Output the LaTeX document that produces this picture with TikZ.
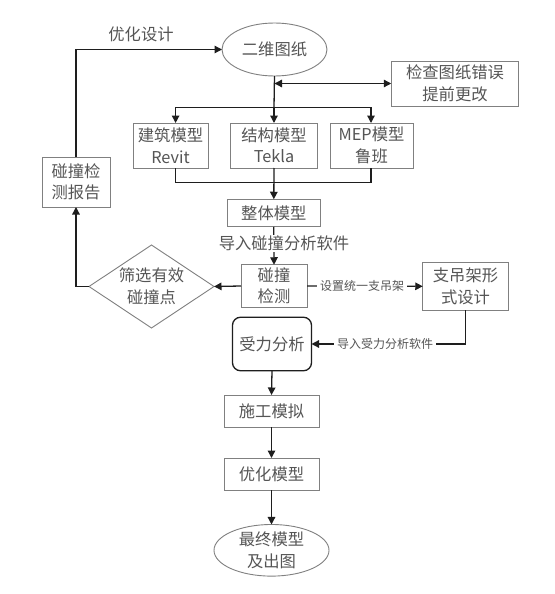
\documentclass[tikz,border=0pt]{standalone}
\usepackage{fontspec}
\setmainfont{Noto Sans CJK SC}
\usetikzlibrary{shapes.geometric,arrows.meta,calc}
\definecolor{txtc}{HTML}{555555}
\definecolor{bordc}{HTML}{808080}
\definecolor{linec}{HTML}{1E1E1E}
\begin{document}
\begin{tikzpicture}[x=1pt,y=-1pt,
  every node/.style={inner sep=0pt,outer sep=0pt},
  bx/.style={draw=bordc,line width=0.9pt,fill=white,rectangle,align=center,text=txtc,
    font=\fontsize{16.3}{21.5}\selectfont},
  ell/.style={draw=bordc,line width=0.9pt,fill=white,ellipse,align=center,text=txtc,
    font=\fontsize{16.3}{21.5}\selectfont},
  txt/.style={align=center,text=txtc,font=\fontsize{16.3}{21.5}\selectfont},
  lbl/.style={fill=white,inner xsep=2pt,inner ysep=1pt,text=txtc,font=\fontsize{16.3}{20}\selectfont},
  slbl/.style={fill=white,inner xsep=3pt,inner ysep=1pt,text=txtc,font=\fontsize{12}{14}\selectfont},
  ln/.style={draw=linec,line width=1.3pt},
  arr/.style={ln,-{Triangle[length=7.5pt,width=7.5pt]}},
  arr2/.style={ln,{Triangle[length=7.5pt,width=7.5pt]}-{Triangle[length=7.5pt,width=7.5pt]}}]
\useasboundingbox (0,0) rectangle (554,594);
\fill[white] (0,0) rectangle (554,594);

% nodes
\node[ell,minimum width=105pt,minimum height=53pt] (e1) at (274.5,49.5) {二维图纸};
\node[bx,minimum width=127.5pt,minimum height=45pt] (chk) at (455,83.5) {检查图纸错误\\提前更改};
\node[bx,minimum width=75pt,minimum height=45pt] (b1) at (170.5,145.5) {建筑模型\\Revit};
\node[bx,minimum width=87pt,minimum height=45pt] (b2) at (274,145.5) {结构模型\\Tekla};
\node[bx,minimum width=83pt,minimum height=45pt] (b3) at (371.5,145.5) {MEP模型\\鲁班};
\node[bx,minimum width=93.5pt,minimum height=27.5pt] (whole) at (273.8,213) {整体模型};
\node[bx,minimum width=66pt,minimum height=42.5pt] (det) at (274,286) {碰撞\\检测};
\node[draw=bordc,line width=0.9pt,fill=white,diamond,minimum width=125pt,minimum height=83pt] (dia) at (151.5,286.5) {};
\node[txt] (diat) at (dia.center) {筛选有效\\碰撞点};
\node[bx,minimum width=68pt,minimum height=50pt] (rep) at (76,182) {碰撞检\\测报告};
\node[bx,minimum width=85.5pt,minimum height=47.5pt] (sup) at (465.5,286.3) {支吊架形\\式设计};
\node[bx,draw=linec,line width=1.3pt,rounded corners=8pt,minimum width=79pt,minimum height=53.5pt] (force) at (272,344) {受力分析};
\node[bx,minimum width=95pt,minimum height=32pt] (sim) at (271.5,411) {施工模拟};
\node[bx,minimum width=95pt,minimum height=32pt] (opt) at (271.5,474) {优化模型};
\node[ell,minimum width=115pt,minimum height=49.5pt] (fin) at (271.5,550.3) {最终模型\\及出图};

% coordinates for buses
\coordinate (t1) at (175.6,107.3);
\coordinate (tm) at (274,107.3);
\coordinate (t3) at (371,107.3);
\coordinate (u1) at (175.6,182.7);
\coordinate (u3) at (371,182.7);

% connectors
\draw[arr] (rep.north) |- (e1.west);
\node[txt] (optd) at (141,34) {优化设计};
\draw[ln] (e1.south) -- (tm);
\draw[arr2] (e1.south |- chk.west) -- (chk.west);
\draw[ln] (t1) -- (t3);
\draw[arr] (t1) -- (t1 |- b1.north);
\draw[arr] (tm) -- (b2.north);
\draw[arr] (t3) -- (t3 |- b3.north);
\draw[ln] (t1 |- b1.south) -- (u1) -- (u3) -- (t3 |- b3.south);
\draw[arr] (b2.south) -- (whole.north);
\draw[arr] (whole.south) -- (det.north);
\node[lbl] (l1) at (284,243.3) {导入碰撞分析软件};
\draw[arr] (det.west) -- (dia.east);
\draw[arr] (dia.west) -| (rep.south);
\draw[arr] (det.east) -- (sup.west);
\node[slbl] (l2) at (362,286) {设置统一支吊架};
\draw[arr] (sup.south) |- (force.east);
\node[slbl] (l3) at (385,344) {导入受力分析软件};
\draw[arr] (force.south) -- (sim.north);
\draw[arr] (sim.south) -- (opt.north);
\draw[arr] (opt.south) -- (fin.north);
\end{tikzpicture}
\end{document}
